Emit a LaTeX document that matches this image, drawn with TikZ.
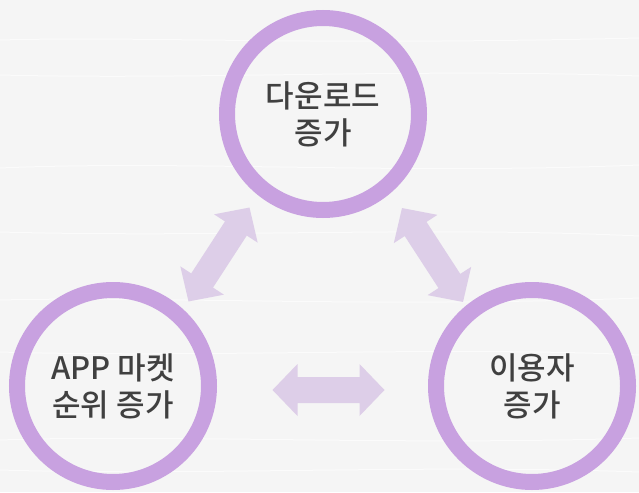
\documentclass[tikz,border=0pt]{standalone}
\usepackage{fontspec}
\newfontfamily\kr{Noto Sans CJK KR Medium}
\definecolor{ringc}{RGB}{200,161,224}
\definecolor{arrc}{RGB}{221,206,232}
\definecolor{txt}{RGB}{64,64,64}
\definecolor{bg}{RGB}{245,245,245}
\begin{document}
\begin{tikzpicture}[x=1pt,y=-1pt,
  ring/.style={circle,draw=ringc,line width=16pt,minimum size=192pt,inner sep=0pt,
    align=center,text=txt,font=\kr\fontsize{31}{37}\selectfont},
  dblarrow/.style={fill=arrc,draw=none},
  grain/.style={white,line width=1pt,opacity=0.6}]
\fill[bg] (0,0) rectangle (639,492);
\useasboundingbox (0,0) rectangle (639,492);
% wood grain
\draw[grain] (0,40) .. controls (150,36) and (300,46) .. (639,38);
\draw[grain] (0,75) .. controls (200,80) and (420,68) .. (639,76);
\draw[grain] (0,168) .. controls (180,160) and (400,175) .. (639,165);
\draw[grain] (0,232) .. controls (220,238) and (430,226) .. (639,236);
\draw[grain] (0,300) .. controls (160,296) and (380,308) .. (639,298);
\draw[grain] (0,352) .. controls (200,358) and (450,346) .. (639,355);
\draw[grain] (0,440) .. controls (170,434) and (400,446) .. (639,438);
\draw[grain] (0,470) .. controls (200,476) and (420,464) .. (639,472);
% circles
\node[ring] (dl) at (323,114) {다운로드\\증가};
\node[ring] (app) at (113,386) {APP 마켓\\순위 증가};
\node[ring] (user) at (532,386) {이용자\\증가};
% arrows
\coordinate (a1) at (219,254.5);
\coordinate (a2) at (432.5,255);
\coordinate (a3) at (328.5,390);
\foreach \c/\r in {a1/57,a2/-57,a3/0}{
  \begin{scope}[shift={(\c)},rotate=\r]
    \fill[dblarrow] (-56,0) -- (-31,26) -- (-31,13) -- (31,13) -- (31,26) -- (56,0)
      -- (31,-26) -- (31,-13) -- (-31,-13) -- (-31,-26) -- cycle;
  \end{scope}
}
\end{tikzpicture}
\end{document}
